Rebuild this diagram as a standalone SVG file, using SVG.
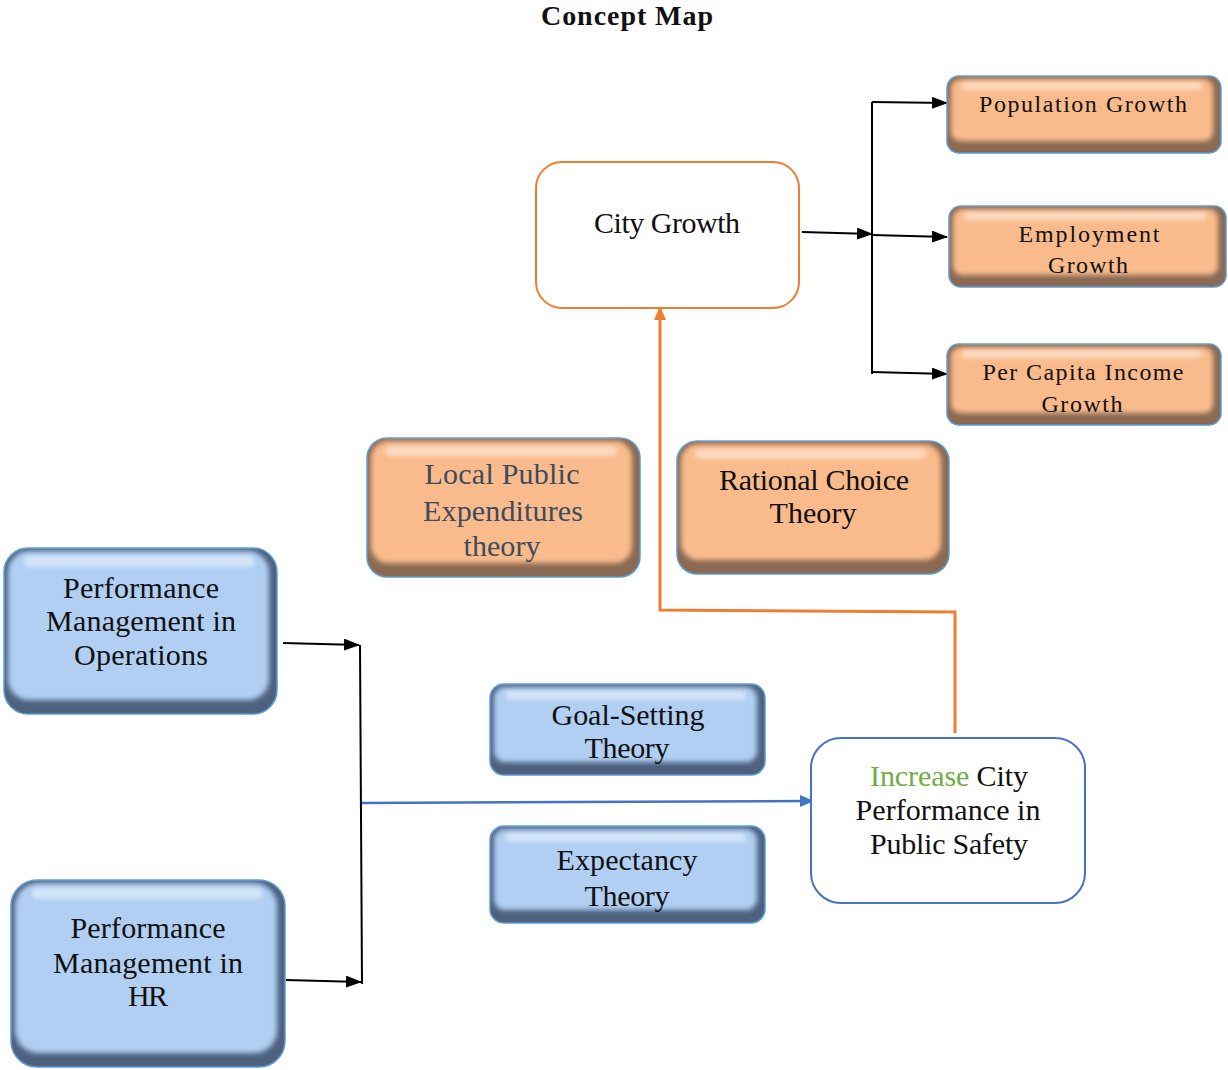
<svg xmlns="http://www.w3.org/2000/svg" width="1228" height="1070" viewBox="0 0 1228 1070" font-family="'Liberation Serif','DejaVu Serif',serif">
<style>
text{font-family:'Liberation Serif','DejaVu Serif',serif;text-anchor:middle;fill:#111}
.t{font-size:30px}
.s{font-size:24px}
.title{font-size:28px;font-weight:bold}
.edge{fill:#8A6A52;stroke:#5B9BD5;stroke-width:1.5}
.oface{fill:#F9BB8C;filter:url(#soft)}
.bedge{fill:#4E6280;stroke:#5B9BD5;stroke-width:1.5}
.bface{fill:#B0CFF2;filter:url(#soft)}
.hl{fill:#fff;opacity:.45;filter:url(#soft2)}
.blk{fill:none;stroke:#000;stroke-width:2}
</style>
<defs>
<filter id="soft" x="-5%" y="-5%" width="110%" height="110%"><feGaussianBlur stdDeviation="2.5"/></filter>
<filter id="soft2" x="-10%" y="-50%" width="120%" height="200%"><feGaussianBlur stdDeviation="2"/></filter>
<marker id="ak" markerWidth="16" markerHeight="12" refX="15" refY="6" orient="auto" markerUnits="userSpaceOnUse"><path d="M0,0 L16,6 L0,12 z" fill="#000"/></marker>
<marker id="au" markerWidth="14" markerHeight="12" refX="13" refY="6" orient="auto" markerUnits="userSpaceOnUse"><path d="M0,0 L14,6 L0,12 z" fill="#4472C4"/></marker>
<marker id="ao" markerWidth="14" markerHeight="12" refX="13" refY="6" orient="auto" markerUnits="userSpaceOnUse"><path d="M0,0 L14,6 L0,12 z" fill="#ED7D31"/></marker>
</defs>

<text class="title" x="627" y="25" textLength="172">Concept Map</text>

<g id="connectors">
<path class="blk" d="M802,232 L872,234" marker-end="url(#ak)"/>
<path class="blk" d="M872,102 L872,374"/>
<path class="blk" d="M872,235 L947,237" marker-end="url(#ak)"/>
<path class="blk" d="M872,102 L947,103" marker-end="url(#ak)"/>
<path class="blk" d="M872,372 L947,374" marker-end="url(#ak)"/>
<path class="blk" d="M283,643 L359,645" marker-end="url(#ak)"/>
<path class="blk" d="M360,645 L362,984"/>
<path class="blk" d="M286,980 L361,982" marker-end="url(#ak)"/>
<path d="M362,803 L813,801" fill="none" stroke="#4472C4" stroke-width="2.5" marker-end="url(#au)"/>
<path d="M955,733 L955,612 L660,610 L660,307" fill="none" stroke="#ED7D31" stroke-width="3" marker-end="url(#ao)"/>
</g>

<g id="city-growth">
<rect x="536" y="162" width="263" height="146" rx="26" fill="#fff" stroke="#ED7D31" stroke-width="2"/>
<text class="t" x="667" y="233" textLength="146">City Growth</text>
</g>

<g id="population-growth">
<rect class="edge" x="947" y="76" width="274" height="77" rx="12"/>
<rect class="oface" x="951" y="79" width="262" height="62" rx="9"/>
<rect class="hl" x="962" y="82" width="240" height="8" rx="4"/>
<text class="s" x="1083" y="112" textLength="208">Population Growth</text>
</g>

<g id="employment-growth">
<rect class="edge" x="949" y="206" width="277" height="81" rx="12"/>
<rect class="oface" x="953" y="209" width="265" height="66" rx="9"/>
<rect class="hl" x="964" y="212" width="243" height="8" rx="4"/>
<text class="s" x="1089" y="242" textLength="141">Employment</text>
<text class="s" x="1088" y="273" textLength="80">Growth</text>
</g>

<g id="per-capita-income-growth">
<rect class="edge" x="947" y="344" width="274" height="81" rx="12"/>
<rect class="oface" x="951" y="347" width="262" height="66" rx="9"/>
<rect class="hl" x="962" y="350" width="240" height="8" rx="4"/>
<text class="s" x="1083" y="380" textLength="201">Per Capita Income</text>
<text class="s" x="1082" y="412" textLength="81">Growth</text>
</g>

<g id="local-public-expenditures">
<rect class="edge" x="367" y="438" width="273" height="139" rx="20"/>
<rect class="oface" x="371" y="441" width="261" height="122" rx="17"/>
<rect class="hl" x="385" y="446" width="232" height="10" rx="5"/>
<text class="t" x="502" y="484" textLength="155" style="fill:#3F4B5B">Local Public</text>
<text class="t" x="503" y="521" textLength="160" style="fill:#3F4B5B">Expenditures</text>
<text class="t" x="502" y="556" textLength="77" style="fill:#3F4B5B">theory</text>
</g>

<g id="rational-choice">
<rect class="edge" x="677" y="441" width="272" height="133" rx="20"/>
<rect class="oface" x="681" y="444" width="260" height="116" rx="17"/>
<rect class="hl" x="695" y="449" width="231" height="10" rx="5"/>
<text class="t" x="814" y="490" textLength="190">Rational Choice</text>
<text class="t" x="813" y="523" textLength="87">Theory</text>
</g>

<g id="pm-operations">
<rect class="bedge" x="4" y="548" width="273" height="166" rx="24"/>
<rect class="bface" x="8" y="551" width="261" height="149" rx="21"/>
<rect class="hl" x="24" y="556" width="230" height="11" rx="5"/>
<text class="t" x="141" y="598" textLength="156">Performance</text>
<text class="t" x="141" y="631" textLength="190">Management in</text>
<text class="t" x="141" y="665" textLength="134">Operations</text>
</g>

<g id="pm-hr">
<rect class="bedge" x="11" y="880" width="274" height="187" rx="26"/>
<rect class="bface" x="15" y="883" width="262" height="170" rx="23"/>
<rect class="hl" x="32" y="888" width="230" height="11" rx="5"/>
<text class="t" x="148" y="938" textLength="155">Performance</text>
<text class="t" x="148" y="973" textLength="190">Management in</text>
<text class="t" x="148" y="1006" textLength="40">HR</text>
</g>

<g id="goal-setting">
<rect class="bedge" x="490" y="684" width="275" height="91" rx="14"/>
<rect class="bface" x="494" y="687" width="263" height="75" rx="11"/>
<rect class="hl" x="506" y="691" width="240" height="9" rx="4"/>
<text class="t" x="628" y="725" textLength="153">Goal-Setting</text>
<text class="t" x="627" y="758" textLength="85">Theory</text>
</g>

<g id="expectancy">
<rect class="bedge" x="490" y="826" width="275" height="97" rx="14"/>
<rect class="bface" x="494" y="829" width="263" height="81" rx="11"/>
<rect class="hl" x="506" y="833" width="240" height="9" rx="4"/>
<text class="t" x="627" y="870" textLength="141">Expectancy</text>
<text class="t" x="627" y="906" textLength="85">Theory</text>
</g>

<g id="increase-city-performance">
<rect x="811" y="738" width="274" height="165" rx="30" fill="#fff" stroke="#4472C4" stroke-width="2"/>
<text class="t" x="949" y="786" textLength="158"><tspan style="fill:#70AD47">Increase</tspan> City</text>
<text class="t" x="948" y="820" textLength="185">Performance in</text>
<text class="t" x="949" y="854" textLength="158">Public Safety</text>
</g>
</svg>
